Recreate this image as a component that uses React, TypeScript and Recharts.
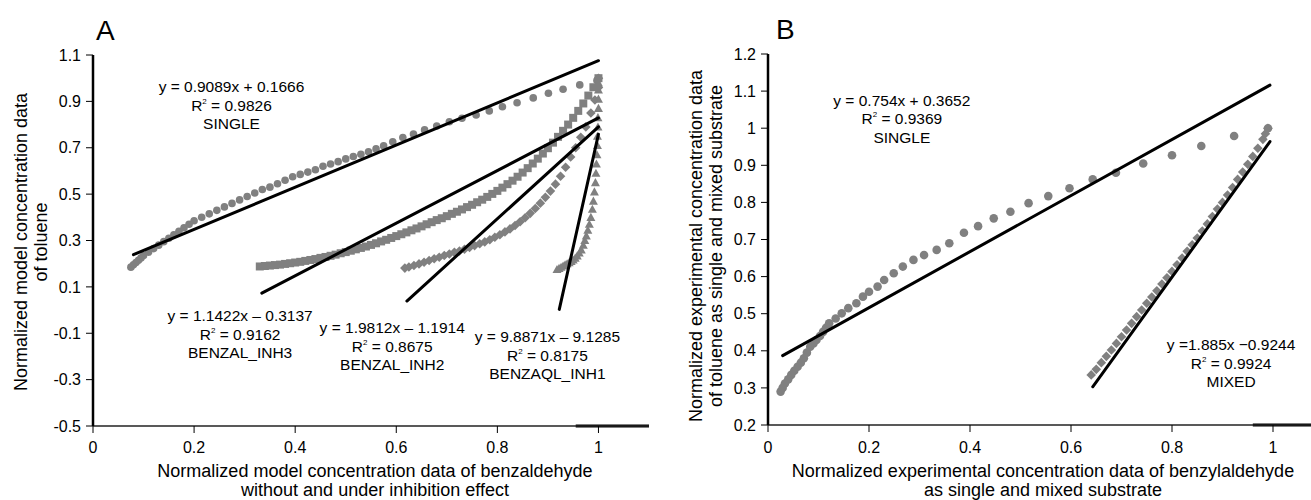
import { ScatterChart, Scatter, XAxis, YAxis, ReferenceDot, ReferenceLine } from "recharts";

const FONT = "'Liberation Sans', Arial, Helvetica, sans-serif";
const GREY = "#808080";

// ---- panel A: model data ----
const aXTicks = [0, 0.2, 0.4, 0.6, 0.8, 1];
const aYTicks = [-0.5, -0.3, -0.1, 0.1, 0.3, 0.5, 0.7, 0.9, 1.1];

const aSingle: [number, number][] = [
    [0.075, 0.185], [0.08, 0.195], [0.085, 0.205], [0.09, 0.215], [0.095, 0.225],
    [0.1, 0.235], [0.11, 0.25], [0.12, 0.265], [0.13, 0.28], [0.14, 0.295],
    [0.15, 0.31], [0.16, 0.325], [0.17, 0.34], [0.18, 0.355], [0.19, 0.37],
    [0.2, 0.385], [0.215, 0.4], [0.23, 0.415], [0.245, 0.43], [0.26, 0.445],
    [0.275, 0.46], [0.29, 0.475], [0.305, 0.49], [0.32, 0.505], [0.335, 0.52],
    [0.35, 0.53], [0.365, 0.545], [0.38, 0.56], [0.395, 0.575], [0.41, 0.585],
    [0.425, 0.595], [0.44, 0.605], [0.455, 0.62], [0.47, 0.63], [0.485, 0.64],
    [0.5, 0.652], [0.515, 0.662], [0.53, 0.672], [0.545, 0.683], [0.56, 0.695],
    [0.575, 0.708], [0.593, 0.726], [0.613, 0.744], [0.634, 0.759], [0.656, 0.777],
    [0.68, 0.794], [0.705, 0.812], [0.73, 0.827], [0.758, 0.841], [0.784, 0.859],
    [0.81, 0.877], [0.839, 0.894], [0.871, 0.915], [0.901, 0.935], [0.93, 0.952],
    [0.963, 0.971], [0.997, 0.99], [1.0, 1.0],
];

const aInh3: [number, number][] = [
    [0.33, 0.188], [0.34, 0.19], [0.35, 0.192], [0.36, 0.194], [0.37, 0.196],
    [0.38, 0.199], [0.39, 0.202], [0.4, 0.205], [0.41, 0.208], [0.42, 0.212],
    [0.43, 0.216], [0.44, 0.22], [0.45, 0.225], [0.46, 0.229], [0.47, 0.234],
    [0.48, 0.239], [0.49, 0.245], [0.5, 0.25], [0.51, 0.256], [0.52, 0.262],
    [0.53, 0.268], [0.54, 0.274], [0.55, 0.281], [0.56, 0.288], [0.57, 0.296],
    [0.58, 0.303], [0.59, 0.311], [0.6, 0.319], [0.61, 0.327], [0.62, 0.335],
    [0.63, 0.344], [0.64, 0.352], [0.65, 0.361], [0.66, 0.37], [0.67, 0.379],
    [0.68, 0.388], [0.69, 0.396], [0.7, 0.405], [0.71, 0.415], [0.72, 0.424],
    [0.73, 0.434], [0.74, 0.444], [0.75, 0.454], [0.76, 0.465], [0.77, 0.476],
    [0.78, 0.488], [0.79, 0.501], [0.8, 0.514], [0.81, 0.528], [0.82, 0.543],
    [0.83, 0.558], [0.84, 0.575], [0.85, 0.593], [0.86, 0.612], [0.87, 0.632],
    [0.88, 0.653], [0.89, 0.675], [0.9, 0.698], [0.91, 0.722], [0.92, 0.747],
    [0.93, 0.773], [0.94, 0.8], [0.95, 0.829], [0.96, 0.859], [0.97, 0.891],
    [0.98, 0.925], [0.99, 0.961], [1.0, 1.0],
];

const aInh2: [number, number][] = [
    [0.617, 0.181], [0.625, 0.186], [0.635, 0.192], [0.645, 0.199], [0.655, 0.206],
    [0.665, 0.214], [0.675, 0.221], [0.685, 0.228], [0.695, 0.235], [0.705, 0.242],
    [0.715, 0.249], [0.725, 0.255], [0.735, 0.262], [0.745, 0.27], [0.755, 0.278],
    [0.765, 0.286], [0.775, 0.294], [0.785, 0.303], [0.795, 0.314], [0.805, 0.325],
    [0.815, 0.337], [0.825, 0.35], [0.835, 0.365], [0.845, 0.381], [0.855, 0.398],
    [0.865, 0.417], [0.875, 0.438], [0.885, 0.461], [0.895, 0.486], [0.905, 0.513],
    [0.915, 0.543], [0.925, 0.577], [0.935, 0.616], [0.945, 0.66], [0.955, 0.7],
    [0.965, 0.745], [0.975, 0.79], [0.985, 0.85], [0.993, 0.906], [1.0, 0.96],
    [1.0, 1.0],
];

const aInh1: [number, number][] = [
    [0.918, 0.175], [0.922, 0.18], [0.926, 0.185], [0.93, 0.19], [0.934, 0.195],
    [0.938, 0.2], [0.942, 0.205], [0.946, 0.21], [0.95, 0.216], [0.954, 0.224],
    [0.958, 0.234], [0.962, 0.246], [0.966, 0.26], [0.97, 0.28], [0.973, 0.3],
    [0.976, 0.32], [0.979, 0.345], [0.982, 0.37], [0.985, 0.4], [0.988, 0.435],
    [0.99, 0.47], [0.992, 0.51], [0.994, 0.55], [0.995, 0.59], [0.996, 0.63],
    [0.997, 0.67], [0.998, 0.71], [0.998, 0.75], [0.999, 0.79], [0.999, 0.83],
    [1.0, 0.87], [1.0, 0.91], [1.0, 0.95], [1.0, 0.98],
];

// fitted trend lines, end points
const aFitSingle: [number, number][] = [[0.08, 0.239], [1.0, 1.0755]];
const aFitInh3: [number, number][] = [[0.334, 0.073], [1.0, 0.8285]];
const aFitInh2: [number, number][] = [[0.621, 0.039], [1.0, 0.79]];
const aFitInh1: [number, number][] = [[0.9225, 0.003], [1.0, 0.7586]];

const aNotes = [
    { eq: "y = 0.9089x + 0.1666", r2: "0.9826", name: "SINGLE" },
    { eq: "y = 1.1422x – 0.3137", r2: "0.9162", name: "BENZAL_INH3" },
    { eq: "y = 1.9812x – 1.1914", r2: "0.8675", name: "BENZAL_INH2" },
    { eq: "y = 9.8871x – 9.1285", r2: "0.8175", name: "BENZAQL_INH1" },
];

// ---- panel B: experimental data ----
const bXTicks = [0, 0.2, 0.4, 0.6, 0.8, 1];
const bYTicks = [0.2, 0.3, 0.4, 0.5, 0.6, 0.7, 0.8, 0.9, 1, 1.1, 1.2];

const bSingle: [number, number][] = [
    [0.025, 0.29], [0.029, 0.3], [0.0335, 0.312], [0.04, 0.323], [0.046, 0.335],
    [0.052, 0.346], [0.0586, 0.357], [0.065, 0.368], [0.071, 0.38], [0.077, 0.395],
    [0.0836, 0.411], [0.09, 0.42], [0.096, 0.429], [0.103, 0.44], [0.109, 0.451],
    [0.115, 0.462], [0.121, 0.474], [0.134, 0.487], [0.146, 0.501], [0.159, 0.515],
    [0.175, 0.528], [0.188, 0.546], [0.2, 0.559], [0.217, 0.573], [0.23, 0.591],
    [0.249, 0.609], [0.267, 0.627], [0.288, 0.645], [0.309, 0.658], [0.334, 0.672],
    [0.359, 0.69], [0.388, 0.718], [0.416, 0.736], [0.447, 0.757], [0.48, 0.775],
    [0.516, 0.798], [0.555, 0.817], [0.597, 0.838], [0.643, 0.862], [0.689, 0.88],
    [0.743, 0.905], [0.8, 0.927], [0.858, 0.952], [0.923, 0.979], [0.99, 1.0],
];

const bMixed: [number, number][] = [
    [0.64, 0.335], [0.65, 0.35], [0.66, 0.368], [0.67, 0.385], [0.68, 0.402],
    [0.69, 0.42], [0.7, 0.438], [0.71, 0.456], [0.72, 0.474], [0.73, 0.492],
    [0.74, 0.51], [0.75, 0.528], [0.76, 0.545], [0.77, 0.562], [0.78, 0.58],
    [0.79, 0.597], [0.8, 0.614], [0.81, 0.632], [0.82, 0.65], [0.83, 0.668],
    [0.84, 0.686], [0.85, 0.704], [0.86, 0.723], [0.87, 0.742], [0.88, 0.762],
    [0.89, 0.782], [0.9, 0.8], [0.91, 0.82], [0.92, 0.84], [0.93, 0.862],
    [0.94, 0.882], [0.95, 0.903], [0.96, 0.924], [0.97, 0.946], [0.98, 0.97],
    [0.985, 0.985], [0.99, 1.0],
];

const bFitSingle: [number, number][] = [[0.029, 0.387], [0.994, 1.116]];
const bFitMixed: [number, number][] = [[0.643, 0.303], [0.994, 0.964]];

const bNotes = [
    { eq: "y = 0.754x + 0.3652", r2: "0.9369", name: "SINGLE" },
    { eq: "y =1.885x −0.9244", r2: "0.9924", name: "MIXED" },
];

// where the equation blocks sit (data units, centre of first line)
const aNoteAt: [number, number][] = [[0.274, 0.962], [0.291, -0.025], [0.592, -0.077], [0.899, -0.116]];
const bNoteAt: [number, number][] = [[0.265, 1.076], [0.917, 0.416]];

const toPts = (arr: [number, number][]) => arr.map(([x, y]) => ({ x, y }));

const dot = (r: number) => (p: any) => <circle cx={p.cx} cy={p.cy} r={r} fill={GREY} />;
const square = (s: number) => (p: any) => (
    <rect x={p.cx - s / 2} y={p.cy - s / 2} width={s} height={s} fill={GREY} />
);
const diamond = (s: number) => (p: any) => (
    <polygon
        points={`${p.cx},${p.cy - s} ${p.cx + s},${p.cy} ${p.cx},${p.cy + s} ${p.cx - s},${p.cy}`}
        fill={GREY}
    />
);
const triangle = (s: number) => (p: any) => (
    <polygon
        points={`${p.cx},${p.cy - s} ${p.cx + s},${p.cy + s * 0.8} ${p.cx - s},${p.cy + s * 0.8}`}
        fill={GREY}
    />
);
const noShape = () => <g />;

function Note({ cx, cy, eq, r2, name }: any) {
    const base = cy + 5.5;
    return (
        <g fontFamily={FONT} fontSize={15.5} fill="#000" textAnchor="middle">
            <text x={cx} y={base}>{eq}</text>
            <text x={cx} y={base + 18.5}>
                R<tspan fontSize={8} dy={-7}>2</tspan>
                <tspan dy={7}>{` = ${r2}`}</tspan>
            </text>
            <text x={cx} y={base + 37}>{name}</text>
        </g>
    );
}

const noteLabel = (n: any) => (props: any) => {
    const vb = props.viewBox || {};
    return <Note cx={vb.x + (vb.width || 0) / 2} cy={vb.y + (vb.height || 0) / 2} {...n} />;
};

function YTitle({ x1, x2, cy, lines, letter, lx, ly }: any) {
    return (
        <g fontFamily={FONT} fill="#000">
            <text x={lx} y={ly} fontSize={28}>{letter}</text>
            <text x={x1} y={cy} fontSize={18} textAnchor="middle" transform={`rotate(-90 ${x1} ${cy})`}>
                {lines[0]}
            </text>
            <text x={x2} y={cy} fontSize={18} textAnchor="middle" transform={`rotate(-90 ${x2} ${cy})`}>
                {lines[1]}
            </text>
        </g>
    );
}

function XTitle({ cx, y1, lines }: any) {
    return (
        <g fontFamily={FONT} fill="#000" fontSize={18} textAnchor="middle">
            <text x={cx} y={y1}>{lines[0]}</text>
            <text x={cx} y={y1 + 19}>{lines[1]}</text>
        </g>
    );
}

const tickStyle = { fill: "#000", fontSize: 16, fontFamily: FONT };

function fit(pts: [number, number][], key: string) {
    return (
        <Scatter
            key={key}
            data={toPts(pts)}
            line={{ stroke: "#000", strokeWidth: 3, strokeLinecap: "round" }}
            shape={noShape}
            isAnimationActive={false}
        />
    );
}

function PanelA() {
    return (
        <ScatterChart width={660} height={500} margin={{ top: 55, right: 11, bottom: 0, left: 0 }}>
            <XAxis
                type="number"
                dataKey="x"
                domain={[0, 1.1]}
                ticks={aXTicks}
                interval={0}
                height={74}
                axisLine={{ stroke: "#222", strokeWidth: 1.5 }}
                tickLine={{ stroke: "#000" }}
                tickSize={7}
                tickMargin={9}
                tick={tickStyle}
                label={() => (
                    <XTitle
                        cx={375}
                        y1={476.5}
                        lines={[
                            "Normalized model concentration data of benzaldehyde",
                            "without and under inhibition effect",
                        ]}
                    />
                )}
            />
            <YAxis
                type="number"
                dataKey="y"
                domain={[-0.5, 1.1]}
                ticks={aYTicks}
                interval={0}
                width={93}
                axisLine={{ stroke: "#000", strokeWidth: 2.5 }}
                tickLine={{ stroke: "#000" }}
                tickSize={7}
                tickMargin={5}
                tick={tickStyle}
                label={() => (
                    <YTitle
                        x1={27}
                        x2={47}
                        cy={242}
                        lines={["Normalized model concentration data", "of toluene"]}
                        letter="A"
                        lx={96}
                        ly={40}
                    />
                )}
            />
            <Scatter data={toPts(aSingle)} shape={dot(3.8)} isAnimationActive={false} />
            <Scatter data={toPts(aInh3)} shape={square(8)} isAnimationActive={false} />
            <Scatter data={toPts(aInh2)} shape={diamond(4.8)} isAnimationActive={false} />
            <Scatter data={toPts(aInh1)} shape={triangle(4.5)} isAnimationActive={false} />
            {fit(aFitSingle, "f1")}
            {fit(aFitInh3, "f2")}
            {fit(aFitInh2, "f3")}
            {fit(aFitInh1, "f4")}
            <ReferenceLine
                segment={[{ x: 0.955, y: -0.5 }, { x: 1.1, y: -0.5 }]}
                stroke="#000"
                strokeWidth={3}
                ifOverflow="visible"
            />
            {aNotes.map((n, i) => (
                <ReferenceDot
                    key={n.name}
                    x={aNoteAt[i][0]}
                    y={aNoteAt[i][1]}
                    r={1}
                    fill="none"
                    stroke="none"
                    ifOverflow="visible"
                    label={noteLabel(n)}
                />
            ))}
        </ScatterChart>
    );
}

function PanelB() {
    return (
        <ScatterChart width={670} height={500} margin={{ top: 54, right: 6.5, bottom: 0, left: 0 }}>
            <XAxis
                type="number"
                dataKey="x"
                domain={[0, 1.1]}
                ticks={bXTicks}
                interval={0}
                height={75}
                axisLine={{ stroke: "#222", strokeWidth: 1.5 }}
                tickLine={{ stroke: "#000" }}
                tickSize={7}
                tickMargin={10}
                tick={tickStyle}
                label={() => (
                    <XTitle
                        cx={383}
                        y1={476.5}
                        lines={[
                            "Normalized experimental concentration data of benzylaldehyde",
                            "as single and mixed substrate",
                        ]}
                    />
                )}
            />
            <YAxis
                type="number"
                dataKey="y"
                domain={[0.2, 1.2]}
                ticks={bYTicks}
                interval={0}
                width={108}
                axisLine={{ stroke: "#000", strokeWidth: 2.5 }}
                tickLine={{ stroke: "#000" }}
                tickSize={7}
                tickMargin={5}
                tick={tickStyle}
                label={() => (
                    <YTitle
                        x1={42}
                        x2={62}
                        cy={246}
                        lines={[
                            "Normalized experimental concentration data",
                            "of toluene as single and mixed substrate",
                        ]}
                        letter="B"
                        lx={116}
                        ly={39}
                    />
                )}
            />
            <Scatter data={toPts(bSingle)} shape={dot(4.3)} isAnimationActive={false} />
            <Scatter data={toPts(bMixed)} shape={diamond(4.8)} isAnimationActive={false} />
            {fit(bFitSingle, "g1")}
            {fit(bFitMixed, "g2")}
            <ReferenceLine
                segment={[{ x: 0.96, y: 0.2 }, { x: 1.1, y: 0.2 }]}
                stroke="#000"
                strokeWidth={3}
                ifOverflow="visible"
            />
            {bNotes.map((n, i) => (
                <ReferenceDot
                    key={n.name}
                    x={bNoteAt[i][0]}
                    y={bNoteAt[i][1]}
                    r={1}
                    fill="none"
                    stroke="none"
                    ifOverflow="visible"
                    label={noteLabel(n)}
                />
            ))}
        </ScatterChart>
    );
}

export default function App() {
    return (
        <div
            style={{
                position: "absolute",
                left: 0,
                top: 0,
                width: 1311,
                height: 500,
                overflow: "hidden",
                background: "#fff",
                fontFamily: FONT,
            }}
        >
            <div style={{ position: "absolute", left: 0, top: 0 }}>
                <PanelA />
            </div>
            <div style={{ position: "absolute", left: 660, top: 0 }}>
                <PanelB />
            </div>
        </div>
    );
}
